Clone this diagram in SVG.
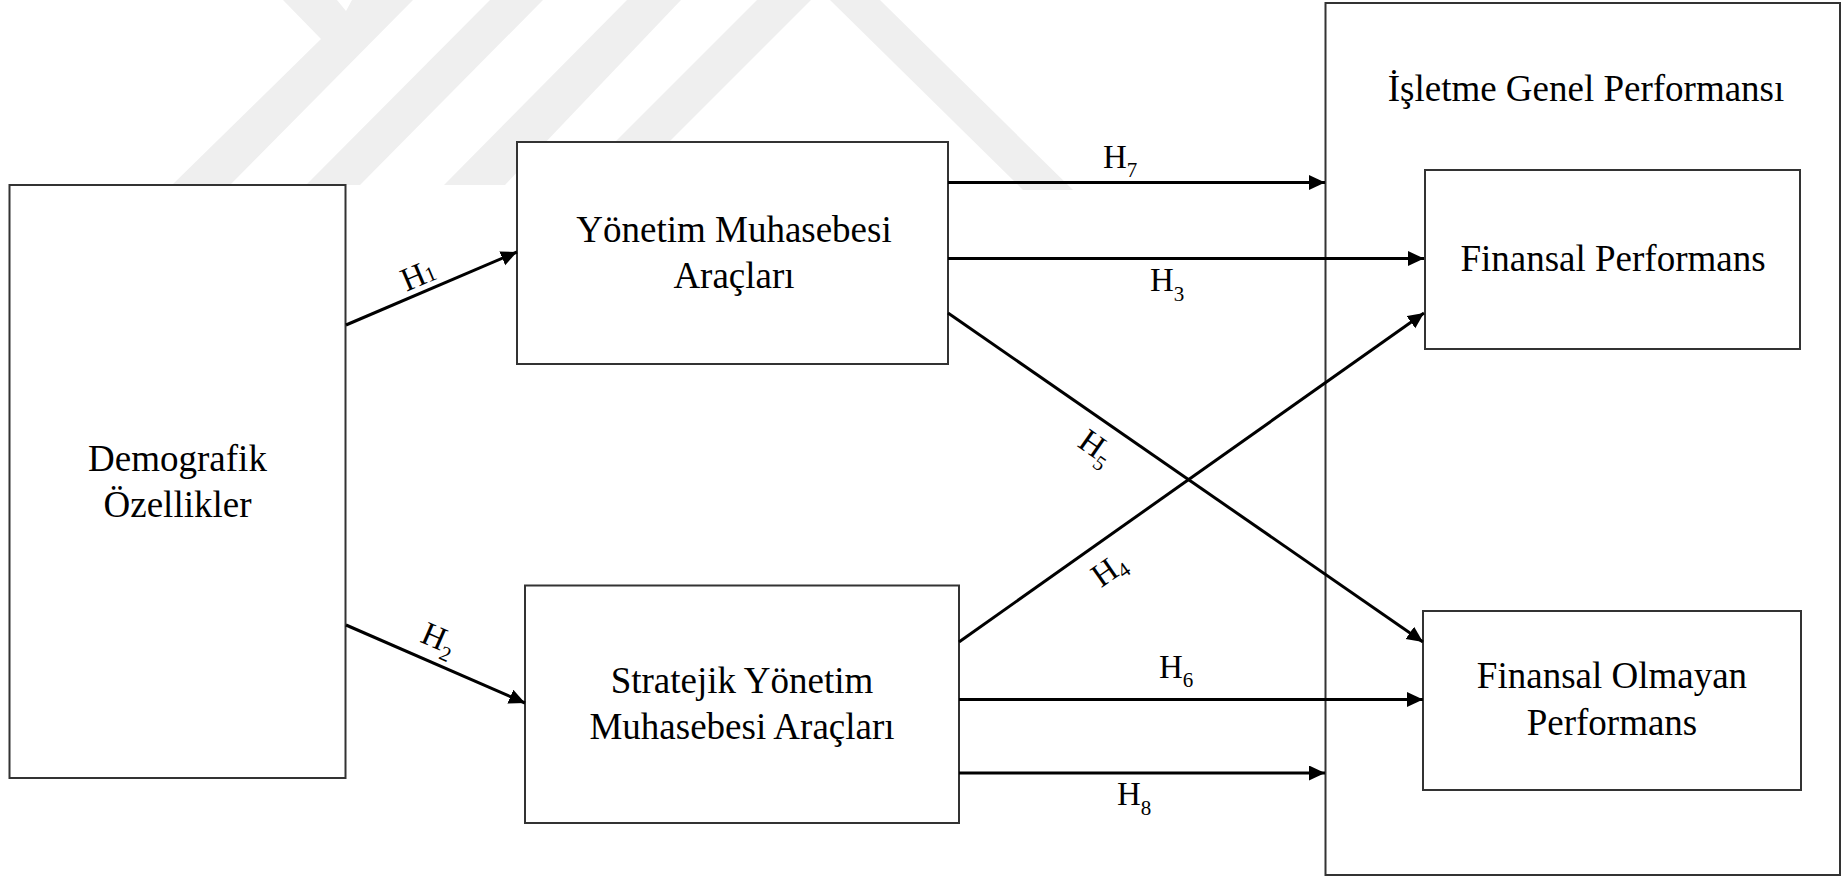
<svg xmlns="http://www.w3.org/2000/svg" width="1843" height="877" viewBox="0 0 1843 877">
<style>
  .wm { fill: #efefef; stroke: none; }
  .box { fill: #ffffff; stroke: #333333; stroke-width: 2; }
  .lbl { font-family: "Liberation Serif", "Times New Roman", serif; font-size: 37px; fill: #000; text-anchor: middle; }
  .h { font-family: "Liberation Serif", "Times New Roman", serif; font-size: 33px; fill: #000; }
  .sub { font-size: 21px; }
  .con { stroke: #000; stroke-width: 3; fill: none; marker-end: url(#arr); }
</style>
<defs>
  <marker id="arr" markerUnits="userSpaceOnUse" markerWidth="18" markerHeight="16" refX="16" refY="7.5" orient="auto">
    <path d="M0,0 L16,7.5 L0,15 z" fill="#000"/>
  </marker>
</defs>
<rect x="0" y="0" width="1843" height="877" fill="#ffffff"/>
<g id="watermark">
  <polygon class="wm" points="283,0 337,0 346,11 352,0 413,0 230,185 172,185 321,39"/>
  <polygon class="wm" points="490,0 543,0 360,185 306,185"/>
  <polygon class="wm" points="627,0 681,0 505,185 444,185"/>
  <polygon class="wm" points="757,0 811,0 626,185 572,185"/>
  <polygon class="wm" points="830,0 880,0 1073,190 1023,190"/>
</g>
<g id="isletme-genel-performansi">
  <rect class="box" x="1325.5" y="3" width="514.5" height="872"/>
  <text class="lbl" x="1586" y="101">İşletme Genel Performansı</text>
</g>
<g id="demografik">
  <rect class="box" x="9.5" y="185" width="336" height="593"/>
  <text class="lbl" x="177.5" y="471">Demografik</text>
  <text class="lbl" x="177.5" y="517">Özellikler</text>
</g>
<g id="yonetim">
  <rect class="box" x="517" y="142" width="431" height="222"/>
  <text class="lbl" x="734" y="242">Yönetim Muhasebesi</text>
  <text class="lbl" x="734" y="288">Araçları</text>
</g>
<g id="stratejik">
  <rect class="box" x="525" y="585.5" width="434" height="237.5"/>
  <text class="lbl" x="742" y="693">Stratejik Yönetim</text>
  <text class="lbl" x="742" y="739">Muhasebesi Araçları</text>
</g>
<g id="finansal">
  <rect class="box" x="1425" y="170" width="375" height="179"/>
  <text class="lbl" x="1613" y="271">Finansal Performans</text>
</g>
<g id="finansal-olmayan">
  <rect class="box" x="1423" y="611" width="378" height="179"/>
  <text class="lbl" x="1612" y="688">Finansal Olmayan</text>
  <text class="lbl" x="1612" y="735">Performans</text>
</g>
<g id="connectors">
  <line class="con" x1="346" y1="325" x2="517" y2="252"/>
  <line class="con" x1="346" y1="625" x2="525" y2="703"/>
  <line class="con" x1="948" y1="182.5" x2="1325" y2="182.5"/>
  <line class="con" x1="948" y1="258.5" x2="1424" y2="258.5"/>
  <line class="con" x1="948" y1="313" x2="1423" y2="642"/>
  <line class="con" x1="959" y1="642" x2="1424" y2="313"/>
  <line class="con" x1="959" y1="699.5" x2="1423" y2="699.5"/>
  <line class="con" x1="959" y1="773" x2="1325" y2="773"/>
  <g id="labels">
    <text class="h" transform="translate(418,275) rotate(-23)" x="0" y="11" text-anchor="middle">H<tspan class="sub">1</tspan></text>
    <text class="h" transform="translate(438,641) rotate(23.5)" x="0" y="8" text-anchor="middle">H<tspan class="sub" dy="8">2</tspan></text>
    <text class="h" x="1103" y="168">H<tspan class="sub" dy="9">7</tspan></text>
    <text class="h" x="1150" y="291">H<tspan class="sub" dy="10">3</tspan></text>
    <text class="h" transform="translate(1095,449) rotate(35)" x="0" y="8" text-anchor="middle">H<tspan class="sub" dy="8">5</tspan></text>
    <text class="h" transform="translate(1110,571) rotate(-35)" x="0" y="9" text-anchor="middle">H<tspan class="sub" dy="5">4</tspan></text>
    <text class="h" x="1159" y="678">H<tspan class="sub" dy="9">6</tspan></text>
    <text class="h" x="1117" y="805">H<tspan class="sub" dy="10">8</tspan></text>
  </g>
</g>
</svg>
